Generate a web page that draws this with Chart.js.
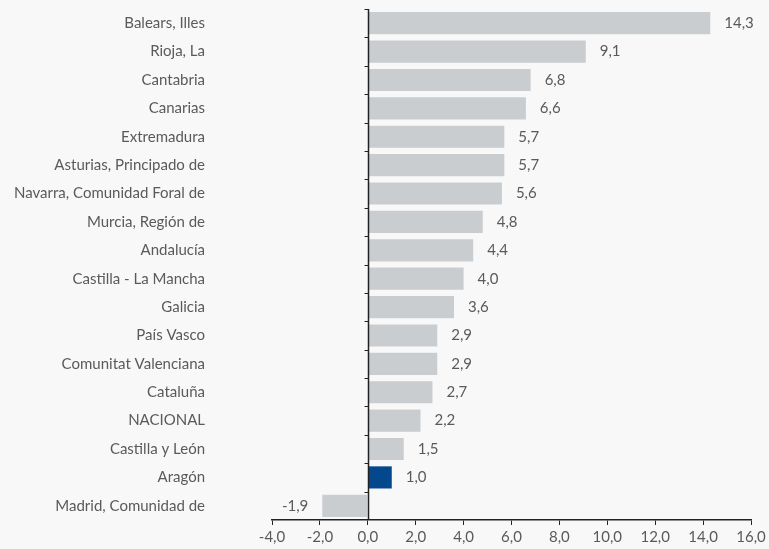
<!DOCTYPE html>
<html><head><meta charset="utf-8">
<script src="https://cdn.jsdelivr.net/npm/chart.js@4"></script>
<style>html,body{margin:0;padding:0;background:#f8f8f8;overflow:hidden;}#wrap{position:relative;width:769px;height:549px;}</style>
</head><body><div id="wrap"><canvas id="c"></canvas></div>
<script>
const categories = ["Balears, Illes","Rioja, La","Cantabria","Canarias","Extremadura","Asturias, Principado de","Navarra, Comunidad Foral de","Murcia, Región de","Andalucía","Castilla - La Mancha","Galicia","País Vasco","Comunitat Valenciana","Cataluña","NACIONAL","Castilla y León","Aragón","Madrid, Comunidad de"];
const values = [14.3,9.1,6.8,6.6,5.7,5.7,5.6,4.8,4.4,4.0,3.6,2.9,2.9,2.7,2.2,1.5,1.0,-1.9];
const highlight = "Aragón";
const xMin = -4, xMax = 16, xStep = 2;

const fmt = v => v.toFixed(1).replace('.', ',');
const FONT = "Lato, 'Open Sans', sans-serif";
const TXT = '#5a5a5a';
const AXIS = '#222';

const valueLabels = {
  id: 'valueLabels',
  afterDatasetsDraw(chart) {
    const ctx = chart.ctx;
    const meta = chart.getDatasetMeta(0);
    const xs = chart.scales.x, ys = chart.scales.y;
    ctx.save();
    const x0 = Math.round(xs.getPixelForValue(0)) + 0.5;
    ctx.strokeStyle = AXIS;
    ctx.lineWidth = 1.5;
    ctx.beginPath();
    ctx.moveTo(x0, chart.chartArea.top);
    ctx.lineTo(x0, chart.chartArea.bottom);
    ctx.stroke();
    ctx.lineWidth = 1;
    const n = categories.length;
    const step = (chart.chartArea.bottom - chart.chartArea.top) / n;
    ctx.beginPath();
    for (let i = 0; i < n; i++) {
      const y = Math.round(ys.getPixelForValue(i) - step / 2) + 0.5;
      ctx.moveTo(x0 - 4, y);
      ctx.lineTo(x0, y);
    }
    ctx.stroke();
    ctx.font = '15px ' + FONT;
    ctx.fillStyle = TXT;
    ctx.textBaseline = 'middle';
    meta.data.forEach((bar, i) => {
      const v = values[i];
      if (v >= 0) { ctx.textAlign = 'left'; ctx.fillText(fmt(v), bar.x + 14, bar.y); }
      else { ctx.textAlign = 'right'; ctx.fillText(fmt(v), bar.x - 14, bar.y); }
    });
    ctx.restore();
  }
};

new Chart(document.getElementById('c'), {
  type: 'bar',
  data: {
    labels: categories,
    datasets: [{
      data: values,
      backgroundColor: categories.map(c => c === highlight ? '#03478c' : '#c9cdd0'),
      categoryPercentage: 1,
      barPercentage: 0.78,
      borderWidth: 0
    }]
  },
  options: {
    indexAxis: 'y',
    responsive: true,
    maintainAspectRatio: false,
    animation: false,
    layout: { padding: { top: 9, right: 18, left: 0, bottom: 0 } },
    plugins: { legend: { display: false }, tooltip: { enabled: false } },
    scales: {
      x: {
        min: xMin, max: xMax,
        ticks: { stepSize: xStep, callback: v => fmt(v), color: TXT, font: { family: FONT, size: 15 }, padding: 3, maxRotation: 0 },
        grid: { drawOnChartArea: false, drawTicks: true, tickLength: 5, color: AXIS, lineWidth: 1 },
        border: { display: true, color: AXIS, width: 1.5 }
      },
      y: {
        position: 'left',
        afterFit: a => { a.width = 272; a.paddingTop = 0; a.paddingBottom = 0; },
        ticks: { color: TXT, font: { family: FONT, size: 15 }, padding: 67, autoSkip: false },
        grid: { display: false, drawTicks: false, tickLength: 0 },
        border: { display: false }
      }
    }
  },
  plugins: [valueLabels]
});
</script></body></html>
